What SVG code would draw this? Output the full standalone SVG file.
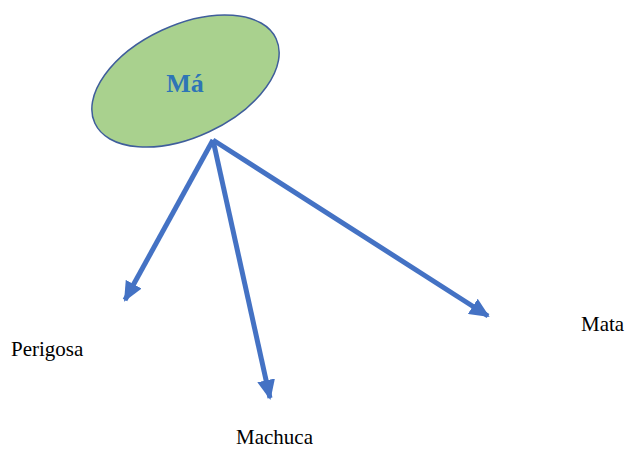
<svg xmlns="http://www.w3.org/2000/svg" width="627" height="450" viewBox="0 0 627 450">
<style>
.edge{stroke:#4472C4;stroke-width:5;fill:none}
.lbl{font-size:21px;fill:#000}
</style>
<defs>
<marker id="ah" markerUnits="userSpaceOnUse" markerWidth="20" markerHeight="18" refX="18" refY="9" orient="auto">
<path d="M0,0 L20,9 L0,18 Z" fill="#4472C4"/>
</marker>
</defs>
<rect width="627" height="450" fill="#fff"/>
<g id="ma">
<ellipse cx="185.5" cy="81" rx="100" ry="56" transform="rotate(-25 185.5 81)" fill="#A9D18E" stroke="#3F5E9B" stroke-width="1.5"/>
<text x="185" y="92" text-anchor="middle" font-family="Liberation Serif,serif" font-size="26" font-weight="bold" fill="#2E75B6">Má</text>
</g>
<g id="connectors">
<line class="edge" x1="213" y1="140" x2="125" y2="300" marker-end="url(#ah)"/>
<line class="edge" x1="213" y1="140" x2="270" y2="398" marker-end="url(#ah)"/>
<line class="edge" x1="213" y1="140" x2="488" y2="316" marker-end="url(#ah)"/>
</g>
<g id="perigosa"><text class="lbl" font-family="Liberation Serif,serif" x="11" y="356">Perigosa</text></g>
<g id="machuca"><text class="lbl" font-family="Liberation Serif,serif" x="236" y="444">Machuca</text></g>
<g id="mata"><text class="lbl" font-family="Liberation Serif,serif" x="581" y="331">Mata</text></g>
</svg>
